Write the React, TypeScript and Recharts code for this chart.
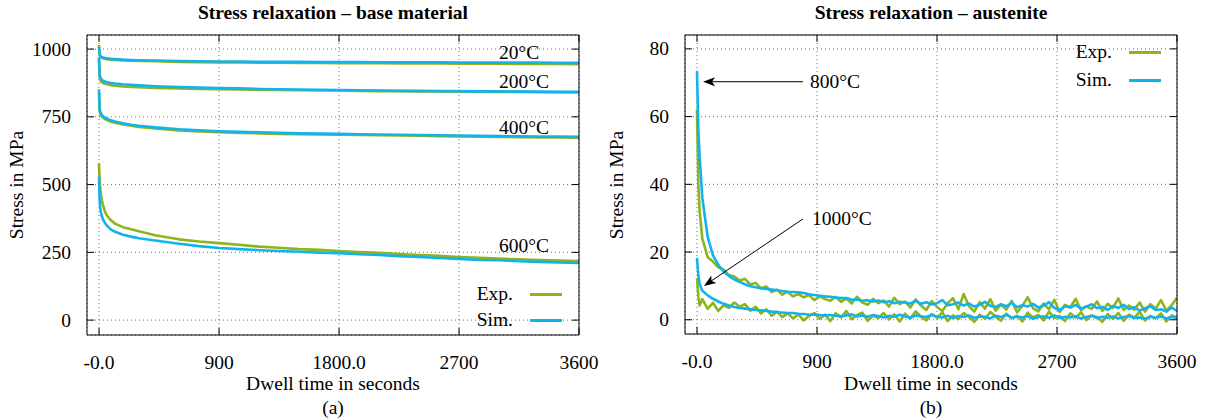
import React from 'react';
import { LineChart, Line, XAxis, YAxis, CartesianGrid, ReferenceDot, ReferenceLine } from 'recharts';

const SERIF = '"Liberation Serif", "Times New Roman", serif';
const GREEN = '#8db51b';
const BLUE = '#12b3ec';
const GRID = '#6e6e6e';

// shared x axis (labels as printed in the original)
const X_TICKS = [0, 900, 1800, 2700, 3600];
const X_TICK_LABELS = ['-0.0', '900', '1800.0', '2700', '3600'];

// (a) base material
const A_TIME = [0, 5, 10, 20, 30, 45, 60, 90, 120, 180, 240, 300, 420, 600, 750, 900, 1050, 1200, 1350, 1500,
  1650, 1800, 1950, 2100, 2250, 2400, 2550, 2700, 2850, 3000, 3150, 3300, 3450, 3600];
const A_EXP_20 = [1015, 978, 972, 968, 966, 964, 963, 961, 960, 958, 957, 956, 955, 953, 952, 951, 951, 950, 950, 949,
  949, 948, 948, 948, 947, 947, 947, 946, 946, 946, 945, 945, 945, 944];
const A_SIM_20 = [1008, 982, 975, 971, 969, 967, 966, 964, 963, 961, 960, 959, 958, 956, 955, 954, 954, 953, 953, 953,
  952, 952, 952, 951, 951, 951, 951, 950, 950, 950, 950, 950, 949, 949];
const A_EXP_200 = [958, 895, 885, 878, 875, 872, 870, 867, 865, 862, 860, 859, 857, 855, 853, 852, 851, 850, 849, 848,
  847, 847, 846, 845, 845, 844, 844, 843, 843, 842, 842, 841, 841, 840];
const A_SIM_200 = [970, 905, 895, 887, 883, 880, 878, 875, 873, 870, 868, 866, 863, 860, 858, 856, 855, 853, 852, 851,
  850, 849, 848, 847, 846, 846, 845, 845, 844, 844, 843, 843, 842, 842];
const A_EXP_400 = [840, 772, 762, 752, 747, 742, 738, 732, 728, 722, 717, 713, 707, 700, 696, 693, 691, 689, 687, 686,
  685, 684, 683, 682, 681, 680, 679, 678, 677, 676, 675, 674, 674, 673];
const A_SIM_400 = [852, 780, 768, 758, 752, 747, 743, 737, 733, 726, 721, 717, 711, 704, 700, 697, 695, 693, 691, 689,
  688, 687, 686, 685, 684, 683, 682, 681, 680, 679, 678, 677, 677, 676];
const A_EXP_600 = [579, 510, 480, 445, 424, 400, 385, 368, 356, 343, 335, 328, 313, 298, 290, 284, 278, 271, 267, 262,
  259, 255, 251, 248, 244, 240, 237, 233, 230, 227, 224, 222, 220, 218];
const A_SIM_600 = [530, 440, 410, 385, 372, 358, 348, 334, 326, 315, 308, 302, 294, 282, 273, 266, 262, 258, 255, 252,
  249, 247, 243, 240, 236, 233, 229, 226, 222, 221, 217, 215, 213, 211];
const A_Y_TICKS = [0, 250, 500, 750, 1000];

// (b) austenite
const B_TIME = [0, 10, 20, 40, 80, 120, 160, 200, 240, 280,
  320, 360, 400, 440, 480, 520, 560, 600, 640, 680,
  720, 760, 800, 840, 880, 920, 960, 1000, 1040, 1080,
  1120, 1160, 1200, 1240, 1280, 1320, 1360, 1400, 1440, 1480,
  1520, 1560, 1600, 1640, 1680, 1720, 1760, 1800, 1840, 1880,
  1920, 1960, 2000, 2040, 2080, 2120, 2160, 2200, 2240, 2280,
  2320, 2360, 2400, 2440, 2480, 2520, 2560, 2600, 2640, 2680,
  2720, 2760, 2800, 2840, 2880, 2920, 2960, 3000, 3040, 3080,
  3120, 3160, 3200, 3240, 3280, 3320, 3360, 3400, 3440, 3480,
  3520, 3560, 3600];
const B_EXP_800 = [62, 40, 32, 24, 18.5, 17.2, 15.5, 14.8, 13.2, 12.8,
  11.6, 12.1, 10.4, 10.9, 9.3, 9.8, 8.2, 8.9, 7.4, 8.3,
  6.9, 7.6, 6.6, 7.3, 5.8, 6.9, 6.1, 5.6, 6.8, 5.3,
  6.3, 4.8, 6.8, 5.1, 4.4, 6.2, 4.9, 5.7, 3.9, 6.5,
  4.6, 5.4, 3.6, 6.0, 4.2, 2.9, 5.5, 3.8, 2.6, 4.9,
  6.4, 3.1, 7.6, 4.0, 2.4, 5.2, 3.3, 6.1, 2.7, 4.5,
  3.0, 5.6, 2.2, 4.1, 6.6, 3.4, 2.5, 4.8, 3.1, 5.9,
  2.3, 4.4, 3.7, 6.2, 2.8, 4.0, 3.2, 5.4, 2.6, 4.7,
  3.5, 6.3, 2.9, 4.2, 3.0, 5.1, 2.4, 4.6, 3.3, 5.8,
  2.7, 4.3, 6.5];
const B_SIM_800 = [73.5, 56, 48, 36, 24.5, 19, 16.2, 14.2, 12.9, 11.9,
  11.2, 10.5, 9.9, 9.6, 9.3, 9.1, 8.9, 8.7, 8.5, 8.3,
  8.2, 8.1, 7.9, 7.5, 7.3, 7.1, 6.9, 6.8, 6.6, 6.4,
  6.4, 5.9, 6.0, 5.6, 5.8, 5.4, 5.7, 5.2, 5.5, 4.9,
  5.3, 5.1, 4.8, 5.6, 4.7, 5.2, 4.5, 4.9, 5.8, 4.3,
  4.6, 5.1, 4.2, 4.8, 3.9, 4.4, 5.3, 4.1, 3.8, 4.6,
  4.0, 5.0, 3.7, 4.3, 3.9, 4.7, 3.6, 4.2, 5.2, 3.5,
  2.8, 4.0, 3.6, 4.4, 3.3, 3.9, 4.6, 3.4, 3.8, 2.9,
  4.1, 3.5, 4.4, 3.2, 3.7, 2.7, 3.4, 4.0, 2.9, 3.1,
  2.4, 3.6, 2.6];
const B_EXP_1000 = [12.3, 6.9, 4.2, 6.1, 3.2, 5.0, 2.6, 4.3, 3.5, 5.1,
  3.9, 4.6, 2.7, 3.8, 1.9, 3.1, 1.2, 2.4, 0.8, 1.9,
  0.4, 1.6, -0.2, 1.1, 2.0, 0.3, 1.5, -0.4, 1.9, 0.7,
  2.6, 0.2, 1.4, 2.1, -0.3, 1.2, 0.5, 2.0, 0.1, 1.6,
  -0.5, 1.8, 0.4, 2.5, 0.9, -0.2, 1.7, 0.6, 2.2, -0.4,
  1.3, 0.2, 2.0, 0.8, -0.6, 1.5, 0.3, 2.3, 0.9, -0.3,
  1.8, 0.4, 1.2, -0.5, 2.1, 0.7, 1.4, -0.2, 2.4, 0.5,
  1.1, -0.4, 1.9, 0.6, 2.2, -0.1, 1.3, 0.8, -0.6, 1.7,
  0.3, 2.0, -0.3, 1.5, 0.6, 2.3, -0.2, 1.1, 0.4, 1.9,
  -0.5, 1.3, 0.7];
const B_SIM_1000 = [18.3, 13, 10.5, 8.6, 7.2, 6.2, 5.4, 4.7, 4.2, 3.8,
  3.5, 3.3, 3.1, 2.9, 2.8, 2.6, 2.4, 2.3, 2.1, 2.0,
  2.0, 1.8, 1.7, 1.5, 1.6, 1.4, 1.3, 1.4, 1.2, 1.0,
  1.3, 1.6, 1.0, 1.3, 0.9, 1.4, 1.1, 0.7, 1.2, 0.9,
  1.5, 1.0, 0.6, 1.3, 1.0, 0.8, 1.4, 0.9, 0.7, 1.2,
  0.5, 1.1, 0.8, 1.3, 0.6, 1.0, 0.9, 0.4, 1.2, 0.8,
  1.5, 0.6, 0.9, 0.7, 1.1, 0.3, 0.8, 1.0, 0.6, 1.3,
  0.5, 0.9, 0.7, 1.0, 0.4, 0.8, 1.2, 0.5, 0.9, 0.6,
  1.0, 0.4, 0.8, 1.1, 0.5, 0.7, 0.3, 0.9, 0.6, 1.0,
  0.4, 0.8, 0.5];
const B_Y_TICKS = [0, 20, 40, 60, 80];

const aData = A_TIME.map((t, i) => ({
  t,
  e20: A_EXP_20[i], s20: A_SIM_20[i],
  e200: A_EXP_200[i], s200: A_SIM_200[i],
  e400: A_EXP_400[i], s400: A_SIM_400[i],
  e600: A_EXP_600[i], s600: A_SIM_600[i],
}));

const bData = B_TIME.map((t, i) => ({
  t,
  e800: B_EXP_800[i], s800: B_SIM_800[i],
  e1000: B_EXP_1000[i], s1000: B_SIM_1000[i],
}));

const X_DOMAIN = [-90, 3600];
const TICK_LEN = 7;
const FONT = 19.5;

// gnuplot style: ticks point inward, labels outside
const BottomTick = (p: any) => (
  <g>
    <line x1={p.x} y1={p.y} x2={p.x} y2={p.y - TICK_LEN} stroke="#000" />
    <text x={p.x} y={p.y + 27} textAnchor="middle" dominantBaseline="central"
      fontFamily={SERIF} fontSize={FONT} fill="#000">
      {X_TICK_LABELS[X_TICKS.indexOf(p.payload.value)]}
    </text>
  </g>
);
const TopTick = (p: any) => <line x1={p.x} y1={p.y} x2={p.x} y2={p.y + TICK_LEN} stroke="#000" />;
const LeftTick = (p: any) => (
  <g>
    <line x1={p.x} y1={p.y} x2={p.x + TICK_LEN} y2={p.y} stroke="#000" />
    <text x={p.x - 16} y={p.y} textAnchor="end" dominantBaseline="central"
      fontFamily={SERIF} fontSize={FONT} fill="#000">
      {p.payload.value}
    </text>
  </g>
);
const RightTick = (p: any) => <line x1={p.x} y1={p.y} x2={p.x - TICK_LEN} y2={p.y} stroke="#000" />;

const tempLabel = (text: string) => (p: any) => (
  <text x={p.cx} y={p.cy} dominantBaseline="central" fontFamily={SERIF} fontSize={FONT} fill="#000">{text}</text>
);

const Arrow = (p: any) => {
  const { x1, y1, x2, y2 } = p;
  const a = Math.atan2(y2 - y1, x2 - x1);
  const c = Math.cos(a);
  const s = Math.sin(a);
  const pt = (d: number, w: number) => `${x2 - d * c - w * s},${y2 - d * s + w * c}`;
  return (
    <g>
      <line x1={x1} y1={y1} x2={x2 - 8 * c} y2={y2 - 8 * s} stroke="#000" strokeWidth={1} />
      <polygon points={`${x2},${y2} ${pt(12, 4.5)} ${pt(9, 0)} ${pt(12, -4.5)}`} fill="#000" />
    </g>
  );
};

function Txt({ x, y, children, bold, rotate, anchor = 'middle' }: any) {
  const tx = anchor === 'end' ? '-100%' : '-50%';
  return (
    <div style={{
      position: 'absolute', left: x, top: y, whiteSpace: 'nowrap', lineHeight: 1,
      fontSize: FONT, fontWeight: bold ? 700 : 400, color: '#000',
      transform: `translate(${tx}, -50%)${rotate ? ' rotate(-90deg)' : ''}`,
    }}>{children}</div>
  );
}

function LegendRow({ x, y, label, color }: any) {
  return (
    <>
      <Txt x={x} y={y} anchor="end">{label}</Txt>
      <div style={{ position: 'absolute', left: x + 17, top: y - 1.5, width: 32, height: 3, background: color }} />
    </>
  );
}

const lineProps = { type: 'linear' as const, dot: false, isAnimationActive: false, strokeWidth: 2.6, strokeLinejoin: 'round' as const };
// axes get 1px so recharts draws them; the frame is made from their axis lines
const axisCommon = {
  type: 'number' as const, interval: 0, tickSize: 0, tickMargin: 0, tickLine: false,
  axisLine: { stroke: '#000' }, allowDataOverflow: true,
};

export default function App() {
  return (
    <div style={{ position: 'absolute', left: 0, top: 0, width: 1207, height: 420, background: '#fff', fontFamily: SERIF }}>
      <div style={{ position: 'absolute', left: 0, top: 0 }}>
        <LineChart width={600} height={420} data={aData} margin={{ top: 34, right: 20, left: 86, bottom: 84 }}>
          <CartesianGrid stroke={GRID} strokeDasharray="1 3" />
          <XAxis dataKey="t" domain={X_DOMAIN} ticks={X_TICKS} height={1} tick={BottomTick} {...axisCommon} />
          <XAxis xAxisId="top" orientation="top" dataKey="t" domain={X_DOMAIN} ticks={X_TICKS} height={1} tick={TopTick} {...axisCommon} />
          <YAxis domain={[-55, 1052]} ticks={A_Y_TICKS} width={1} tick={LeftTick} {...axisCommon} />
          <YAxis yAxisId="right" orientation="right" domain={[-55, 1052]} ticks={A_Y_TICKS} width={1} tick={RightTick} {...axisCommon} />
          <Line dataKey="e20" stroke={GREEN} {...lineProps} />
          <Line dataKey="e200" stroke={GREEN} {...lineProps} />
          <Line dataKey="e400" stroke={GREEN} {...lineProps} />
          <Line dataKey="e600" stroke={GREEN} {...lineProps} />
          <Line dataKey="s20" stroke={BLUE} {...lineProps} />
          <Line dataKey="s200" stroke={BLUE} {...lineProps} />
          <Line dataKey="s400" stroke={BLUE} {...lineProps} />
          <Line dataKey="s600" stroke={BLUE} {...lineProps} />
          <ReferenceDot x={3000} y={989} r={0} shape={tempLabel('20°C')} />
          <ReferenceDot x={3000} y={882} r={0} shape={tempLabel('200°C')} />
          <ReferenceDot x={3000} y={712} r={0} shape={tempLabel('400°C')} />
          <ReferenceDot x={3000} y={277} r={0} shape={tempLabel('600°C')} />
        </LineChart>
      </div>

      <div style={{ position: 'absolute', left: 600, top: 0 }}>
        <LineChart width={607} height={420} data={bData} margin={{ top: 34, right: 29, left: 84, bottom: 85 }}>
          <CartesianGrid stroke={GRID} strokeDasharray="1 3" />
          <XAxis dataKey="t" domain={X_DOMAIN} ticks={X_TICKS} height={1} tick={BottomTick} {...axisCommon} />
          <XAxis xAxisId="top" orientation="top" dataKey="t" domain={X_DOMAIN} ticks={X_TICKS} height={1} tick={TopTick} {...axisCommon} />
          <YAxis domain={[-4.2, 84.1]} ticks={B_Y_TICKS} width={1} tick={LeftTick} {...axisCommon} />
          <YAxis yAxisId="right" orientation="right" domain={[-4.2, 84.1]} ticks={B_Y_TICKS} width={1} tick={RightTick} {...axisCommon} />
          <Line dataKey="e800" stroke={GREEN} {...lineProps} />
          <Line dataKey="e1000" stroke={GREEN} {...lineProps} />
          <Line dataKey="s800" stroke={BLUE} {...lineProps} />
          <Line dataKey="s1000" stroke={BLUE} {...lineProps} />
          <ReferenceLine segment={[{ x: 795, y: 70.3 }, { x: 45, y: 70.3 }]} shape={Arrow} ifOverflow="visible" />
          <ReferenceLine segment={[{ x: 795, y: 29.8 }, { x: 52, y: 10 }]} shape={Arrow} ifOverflow="visible" />
          <ReferenceDot x={848} y={70.3} r={0} shape={tempLabel('800°C')} />
          <ReferenceDot x={862} y={29.8} r={0} shape={tempLabel('1000°C')} />
        </LineChart>
      </div>

      <Txt x={333} y={13} bold>Stress relaxation – base material</Txt>
      <Txt x={17} y={185} rotate>Stress in MPa</Txt>
      <Txt x={333} y={384}>Dwell time in seconds</Txt>
      <Txt x={333} y={408}>(a)</Txt>
      <LegendRow x={513} y={294} label="Exp." color={GREEN} />
      <LegendRow x={513} y={320} label="Sim." color={BLUE} />

      <Txt x={931} y={13} bold>Stress relaxation – austenite</Txt>
      <Txt x={617} y={185} rotate>Stress in MPa</Txt>
      <Txt x={931} y={384}>Dwell time in seconds</Txt>
      <Txt x={931} y={408}>(b)</Txt>
      <LegendRow x={1112} y={52} label="Exp." color={GREEN} />
      <LegendRow x={1112} y={80} label="Sim." color={BLUE} />
    </div>
  );
}
